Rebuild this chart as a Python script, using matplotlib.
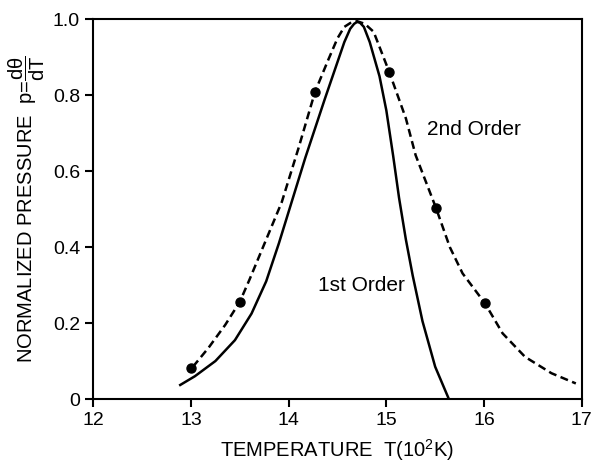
import matplotlib
matplotlib.use("Agg")
import matplotlib.pyplot as plt

plt.rcParams['font.family'] = ['Liberation Sans', 'DejaVu Sans']
plt.rcParams['mathtext.fontset'] = 'custom'
plt.rcParams['mathtext.rm'] = 'Liberation Sans'
plt.rcParams['mathtext.it'] = 'Liberation Sans'

# 1st order curve (solid)
t_first = [12.89, 13.04, 13.25, 13.45, 13.62, 13.77, 13.90, 14.02, 14.17, 14.37,
           14.43, 14.57, 14.63, 14.67, 14.70, 14.73, 14.77, 14.83, 14.93, 15.00,
           15.07, 15.13, 15.20, 15.27, 15.37, 15.50, 15.64]
p_first = [0.037, 0.06, 0.10, 0.155, 0.225, 0.31, 0.41, 0.51, 0.635, 0.79,
           0.835, 0.94, 0.975, 0.988, 0.993, 0.991, 0.98, 0.94, 0.85, 0.76,
           0.64, 0.53, 0.42, 0.325, 0.205, 0.085, 0.0]

# 2nd order curve (dashed)
t_second = [13.02, 13.18, 13.35, 13.50, 13.60, 13.71, 13.93, 14.10, 14.27, 14.40,
            14.50, 14.57, 14.63, 14.70, 14.78, 14.87, 15.03, 15.20, 15.30, 15.51,
            15.65, 15.78, 16.01, 16.19, 16.42, 16.69, 16.94]
p_second = [0.085, 0.135, 0.195, 0.256, 0.315, 0.383, 0.519, 0.66, 0.809, 0.89,
            0.95, 0.98, 0.99, 0.995, 0.988, 0.967, 0.861, 0.739, 0.642, 0.502,
            0.40, 0.331, 0.252, 0.173, 0.111, 0.068, 0.041]

# measured points
t_meas = [13.0, 13.5, 14.27, 15.03, 15.51, 16.01]
p_meas = [0.081, 0.256, 0.809, 0.861, 0.502, 0.252]

fig = plt.figure(figsize=(5.92, 4.68), dpi=100)
ax = fig.add_axes([0.1576, 0.1474, 0.825, 0.8114])

ax.plot(t_first, p_first, color='black', lw=1.8, solid_joinstyle='round')
ax.plot(t_second, p_second, color='black', lw=1.8, dashes=(3.2, 1.8))
ax.plot(t_meas, p_meas, 'o', color='black', ms=6.5)

ax.text(14.75, 0.30, '1st Order', fontsize=15, ha='center', va='center')
ax.text(15.9, 0.71, '2nd Order', fontsize=15, ha='center', va='center')

ax.set_xlim(12, 17)
ax.set_ylim(0, 1.0)
ax.set_xticks([12, 13, 14, 15, 16, 17])
ax.set_yticks([0, 0.2, 0.4, 0.6, 0.8, 1.0])
ax.set_yticklabels(['0', '0.2', '0.4', '0.6', '0.8', '1.0'])
ax.tick_params(direction='out', length=6, width=1.5, labelsize=14)
for s in ax.spines.values():
    s.set_linewidth(1.5)

ax.set_xlabel(r'TEMPERATURE  T(10$^2$K)', fontsize=14.5, labelpad=6)
ax.set_ylabel(r'NORMALIZED PRESSURE  p=$\dfrac{\mathrm{d}\theta}{\mathrm{dT}}$', fontsize=14.5, labelpad=4)

fig.savefig('out.png', dpi=100)
